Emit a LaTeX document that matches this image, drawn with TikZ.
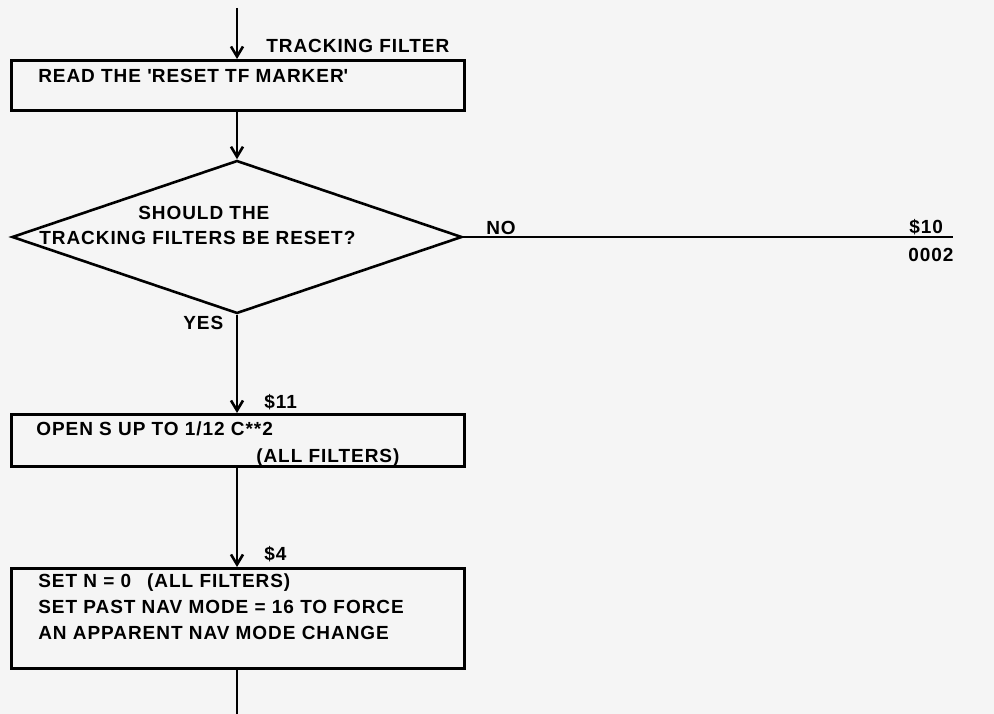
\documentclass[tikz,border=0pt]{standalone}
\usepackage{fontspec}
\newfontfamily\plotfont{Liberation Sans}[LetterSpace=5]
\usetikzlibrary{shapes.geometric, arrows.meta}

\begin{document}
\begin{tikzpicture}[x=1pt, y=-1pt, line width=2.6pt,
  procbox/.style={draw, rectangle, minimum width=453pt, inner sep=0pt, anchor=north west},
  decision/.style={draw, diamond, aspect=2.94, minimum width=450pt, minimum height=153pt, inner sep=0pt},
  lbl/.style={inner sep=0pt, anchor=base west, font=\plotfont\bfseries\fontsize{19}{19}\selectfont},
  flow/.style={-{Straight Barb[length=10pt, width=12pt]}}]

  % ───────── Page (margins of the sheet) ─────────
  \fill[black!4] (0, 0) rectangle (994, 714);
  \useasboundingbox (0, 0) rectangle (994, 714);

  % ───────── Entry / exit points ─────────
  \coordinate (entry) at (237, 8);
  \coordinate (exit) at (237, 714);
  \coordinate (noend) at (953, 237);

  % ───────── Blocks ─────────
  % Read marker box  (x 10–463, y 59–109)
  \node[procbox, minimum height=50pt] (readtf) at (10, 59) {};
  % Reset decision   (centre 237/237, 450 x 153)
  \node[decision] (reset) at (237, 237) {};
  % Open S box       (x 10–463, y 413–465)
  \node[procbox, minimum height=52pt] (opens) at (10, 413) {};
  % Set N box        (x 10–463, y 567–667)
  \node[procbox, minimum height=100pt] (setn) at (10, 567) {};

  % ───────── Texts ─────────
  \node[lbl] (tflabel) at (265, 53) {TRACKING FILTER};
  \node[lbl] (readtxt) at (37, 83) {READ THE \textquotesingle RESET TF MARKER\textquotesingle};

  \node[lbl] (asktxta) at (137, 220) {SHOULD THE};
  \node[lbl] (asktxtb) at (38, 245) {TRACKING FILTERS BE RESET?};
  \node[lbl] (notxt) at (485, 235) {NO};
  \node[lbl] (yestxt) at (182, 330) {YES};
  \node[lbl] (sten) at (908, 234) {\$10};
  \node[lbl] (pagen) at (907, 262) {0002};

  \node[lbl] (steleven) at (263, 408) {\$11};
  \node[lbl] (opentxta) at (35, 435) {OPEN S UP TO 1/12 C**2};
  \node[lbl] (opentxtb) at (255, 462) {(ALL FILTERS)};

  \node[lbl] (stfour) at (263, 560) {\$4};
  \node[lbl] (settxta) at (37, 587) {SET N = 0\hspace{16pt}(ALL FILTERS)};
  \node[lbl] (settxtb) at (37, 613) {SET PAST NAV MODE = 16 TO FORCE};
  \node[lbl] (settxtc) at (37, 639) {AN APPARENT NAV MODE CHANGE};

  % ───────── Flow lines ─────────
  \draw[flow] (entry) -- (readtf.north -| entry);
  \draw[flow] (readtf.south -| entry) -- (reset.north);
  \draw[flow] (reset.south) -- (opens.north -| entry);
  \draw[flow] (opens.south -| entry) -- (setn.north -| entry);
  \draw (setn.south -| entry) -- (exit);
  \draw (reset.east) -- (noend);

\end{tikzpicture}
\end{document}
